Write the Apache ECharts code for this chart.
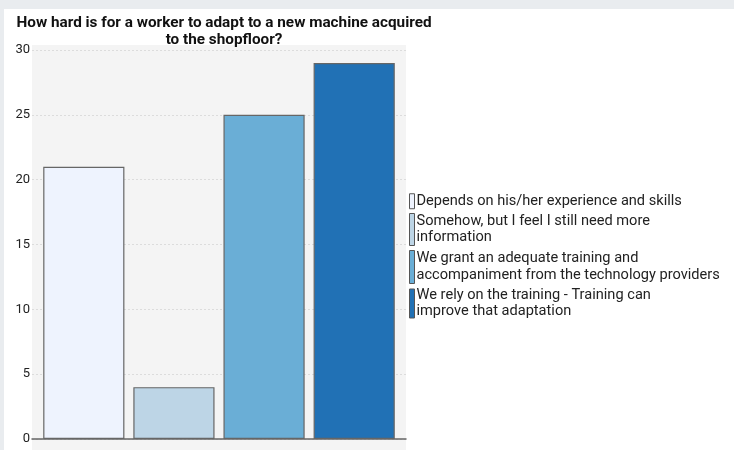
<!DOCTYPE html>
<html>
<head>
<meta charset="utf-8">
<script src="https://cdn.jsdelivr.net/npm/echarts@6/dist/echarts.min.js"></script>
<style>
html,body{margin:0;padding:0;background:#e9ecef;width:734px;height:450px;overflow:hidden;}
#c{position:absolute;left:4px;top:9px;width:730px;height:441px;background:#fff;}
</style>
</head>
<body>
<div id="c"></div>
<script>
const titleText = 'How hard is for a worker to adapt to a new machine acquired\nto the shopfloor?';
const seriesNames = [
  'Depends on his/her experience and skills',
  'Somehow, but I feel I still need more information',
  'We grant an adequate training and accompaniment from the technology providers',
  'We rely on the training - Training can improve that adaptation'
];
const legendLabels = [
  'Depends on his/her experience and skills',
  'Somehow, but I feel I still need more\ninformation',
  'We grant an adequate training and\naccompaniment from the technology providers',
  'We rely on the training - Training can\nimprove that adaptation'
];
const values = [21, 4, 25, 29];
const colors = ['#eef3fe', '#bdd5e6', '#6aaed6', '#2171b5'];
const yTicks = [0, 5, 10, 15, 20, 25, 30];

const chart = echarts.init(document.getElementById('c'), null, {renderer: 'canvas'});
const legendTops = [184, 204, 241, 278];
const legendHeights = [15, 32, 33, 29];
const legends = seriesNames.map((n, i) => ({
  data: [n],
  orient: 'vertical',
  left: 405,
  top: legendTops[i],
  itemWidth: 5,
  itemHeight: legendHeights[i],
  itemGap: 0,
  padding: 0,
  selectedMode: false,
  icon: 'rect',
  itemStyle: {borderColor: '#555', borderWidth: 1},
  formatter: () => legendLabels[i],
  textStyle: {fontFamily: 'Roboto', fontSize: 14.6, lineHeight: 16.5, color: '#222', padding: [0, 0, 0, -3]}
}));

chart.setOption({
  animation: false,
  textStyle: {fontFamily: 'Roboto'},
  title: {
    text: titleText,
    left: 215,
    top: 1,
    textAlign: 'center',
    textStyle: {fontFamily: 'Roboto', fontWeight: 'bold', fontSize: 15.3, lineHeight: 17, color: '#111'}
  },
  graphic: [{
    type: 'rect', z: -10, silent: true,
    shape: {x: 28, y: 36, width: 374, height: 405},
    style: {fill: '#f4f4f4'}
  }],
  legend: legends,
  grid: {left: 28, right: 328, top: 41, bottom: 11},
  xAxis: {
    type: 'category',
    data: [''],
    axisLine: {lineStyle: {color: '#666', width: 1.5}},
    axisTick: {show: false},
    axisLabel: {show: false}
  },
  yAxis: {
    type: 'value',
    min: yTicks[0],
    max: yTicks[yTicks.length - 1],
    interval: 5,
    axisLine: {show: false},
    axisTick: {show: false},
    axisLabel: {fontFamily: 'Roboto', fontSize: 13, color: '#222', margin: 2},
    splitLine: {lineStyle: {color: '#dcdcdc', type: [2, 2]}}
  },
  series: seriesNames.map((n, i) => ({
    type: 'bar',
    name: n,
    data: [values[i]],
    barGap: '11%',
    barCategoryGap: '6%',
    itemStyle: {color: colors[i], borderColor: '#666', borderWidth: 1.2}
  }))
});
</script>
</body>
</html>
